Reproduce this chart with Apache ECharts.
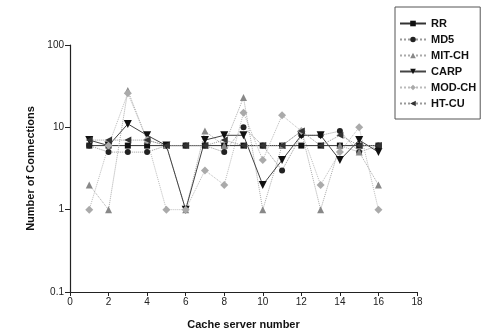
<!DOCTYPE html>
<html lang="en">
<head>
    <meta charset="UTF-8">
    <title>Number of Connections</title>
    <script src="https://cdn.jsdelivr.net/npm/echarts@6/dist/echarts.min.js"></script>
</head>
<body style="margin:0;background:#fff">
    <div id="chart1" style="width:502px;height:335px;"></div>
    <script>
        var myCharts=echarts.init(document.getElementById("chart1"))
        var servers=[1,2,3,4,5,6,7,8,9,10,11,12,13,14,15,16]
        var rr=[6,6,6,6,6,6,6,6,6,6,6,6,6,6,6,6]
        var md5=[6,5,5,5,6,6,6,5,10,6,3,8,8,9,5,6]
        var mitCh=[2,1,28,7,6,1,9,6,23,1,6,9,1,6,5,2]
        var carp=[7,6,11,8,6,1,7,8,8,2,4,8,8,4,7,5]
        var modCh=[1,6,26,7,1,1,3,2,15,4,14,9,2,5,10,1]
        var htCu=[7,7,7,7,6,6,6,7,6,6,6,9,6,8,6,6]
        var xTicks=[0,18,2]

        function pts(arr){
            return arr.map(function(v,i){return [servers[i],v]})
        }
        function mk(name,data,symbol,rot,size,lineColor,lineType,symColor,w){
            return {
                name:name,type:"line",data:pts(data),
                symbol:symbol,symbolRotate:rot,symbolSize:size,
                lineStyle:{color:lineColor,type:lineType,width:w},
                itemStyle:{color:symColor},
                showAllSymbol:true,
                animation:false
            }
        }
        var option={
            backgroundColor:"#fff",
            textStyle:{fontFamily:"Liberation Sans"},
            grid:{left:70,right:85,top:45,bottom:38},
            legend:{
                orient:"vertical",
                left:395,top:7,
                itemWidth:26,itemHeight:7,itemGap:5,
                padding:[11,4,10,4],
                borderColor:"#555",borderWidth:1,
                textStyle:{fontSize:11,fontWeight:"bold",color:"#111"},
                data:["RR","MD5","MIT-CH","CARP","MOD-CH","HT-CU"]
            },
            xAxis:{
                type:"value",min:xTicks[0],max:xTicks[1],interval:xTicks[2],
                name:"Cache server number",nameLocation:"middle",nameGap:27,
                nameTextStyle:{fontSize:11,fontWeight:"bold",color:"#111"},
                axisLine:{onZero:false,lineStyle:{color:"#222",width:1.2}},
                axisTick:{show:true,length:4,lineStyle:{color:"#222"}},
                axisLabel:{fontSize:10,color:"#222",margin:5},
                splitLine:{show:false}
            },
            yAxis:{
                type:"log",logBase:10,min:0.1,max:100,
                name:"Number of Connections",nameLocation:"middle",nameGap:34,
                nameTextStyle:{fontSize:11,fontWeight:"bold",color:"#111"},
                axisLine:{show:true,lineStyle:{color:"#222",width:1.2}},
                axisTick:{show:true,length:5,lineStyle:{color:"#222"}},
                axisLabel:{fontSize:10,color:"#222",margin:6},
                splitLine:{show:false},
                minorTick:{show:false}
            },
            series:[
                mk("RR",rr,"rect",0,6,"#333","solid","#111",1),
                mk("MD5",md5,"circle",0,6,"#999","dotted","#222",1),
                mk("MIT-CH",mitCh,"triangle",0,7,"#aaa","dotted","#888",1),
                mk("CARP",carp,"triangle",180,8,"#444","solid","#111",1),
                mk("MOD-CH",modCh,"diamond",0,8,"#bbb","dotted","#aaa",1),
                mk("HT-CU",htCu,"triangle",90,7,"#999","dotted","#333",1)
            ]
        }
        myCharts.setOption(option)
    </script>
</body>
</html>
